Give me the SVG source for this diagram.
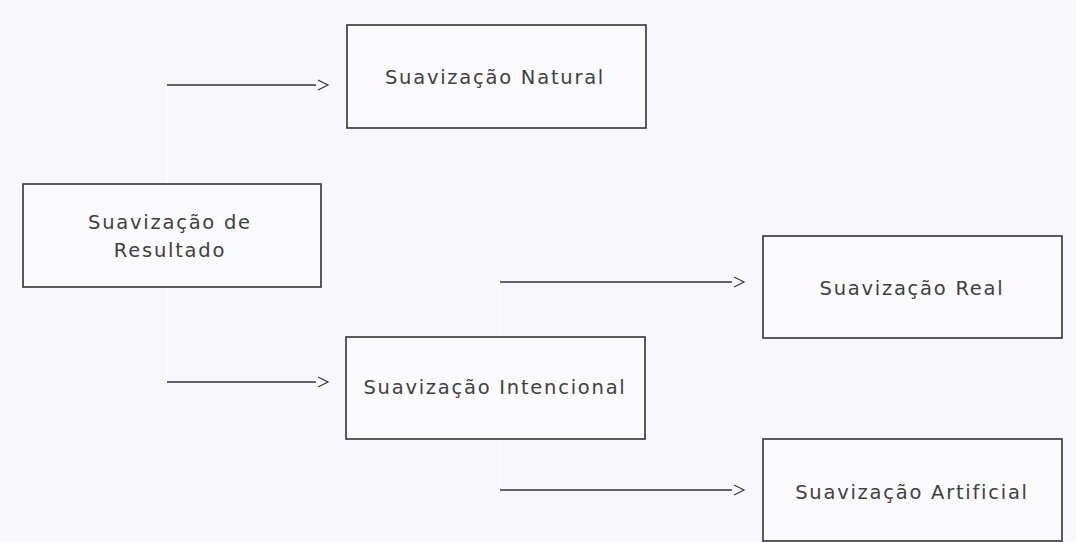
<svg xmlns="http://www.w3.org/2000/svg" width="1076" height="542" viewBox="0 0 1076 542">
<style>
.box{fill:#fafafd;stroke:#333;stroke-width:1.6}
.lbl{font-family:"DejaVu Sans",sans-serif;font-size:19.5px;fill:#404040;text-anchor:middle;dominant-baseline:central;letter-spacing:1.75px}
.h{fill:none;stroke:#333;stroke-width:1.3}
.v{fill:none;stroke:#ffffff;stroke-width:1.3}
.ah{fill:none;stroke:#334;stroke-width:1.2}
</style>
<rect width="1076" height="542" fill="#f8f8fc"/>
<g id="connectors">
<path class="v" d="M167,184 V85"/>
<path class="h" d="M167,85 H316"/>
<path class="ah" d="M318,80 L328,85 L318,90"/>
<path class="v" d="M167,287 V382"/>
<path class="h" d="M167,382 H316"/>
<path class="ah" d="M318,377 L328,382 L318,387"/>
<path class="v" d="M500,337 V282"/>
<path class="h" d="M500,282 H732"/>
<path class="ah" d="M734,277 L744,282 L734,287"/>
<path class="v" d="M500,439 V490"/>
<path class="h" d="M500,490 H732"/>
<path class="ah" d="M734,485 L744,490 L734,495"/>
</g>
<g id="natural">
<rect class="box" x="347" y="25" width="299" height="103"/>
<text class="lbl" x="495" y="77">Suavização Natural</text>
</g>
<g id="resultado">
<rect class="box" x="23" y="184" width="298" height="103"/>
<text class="lbl" x="170" y="222">Suavização de</text>
<text class="lbl" x="170" y="250">Resultado</text>
</g>
<g id="intencional">
<rect class="box" x="346" y="337" width="299" height="102"/>
<text class="lbl" x="495" y="387">Suavização Intencional</text>
</g>
<g id="real">
<rect class="box" x="763" y="236" width="299" height="102"/>
<text class="lbl" x="912" y="288">Suavização Real</text>
</g>
<g id="artificial">
<rect class="box" x="763" y="439" width="299" height="102"/>
<text class="lbl" x="912" y="492">Suavização Artificial</text>
</g>
</svg>
